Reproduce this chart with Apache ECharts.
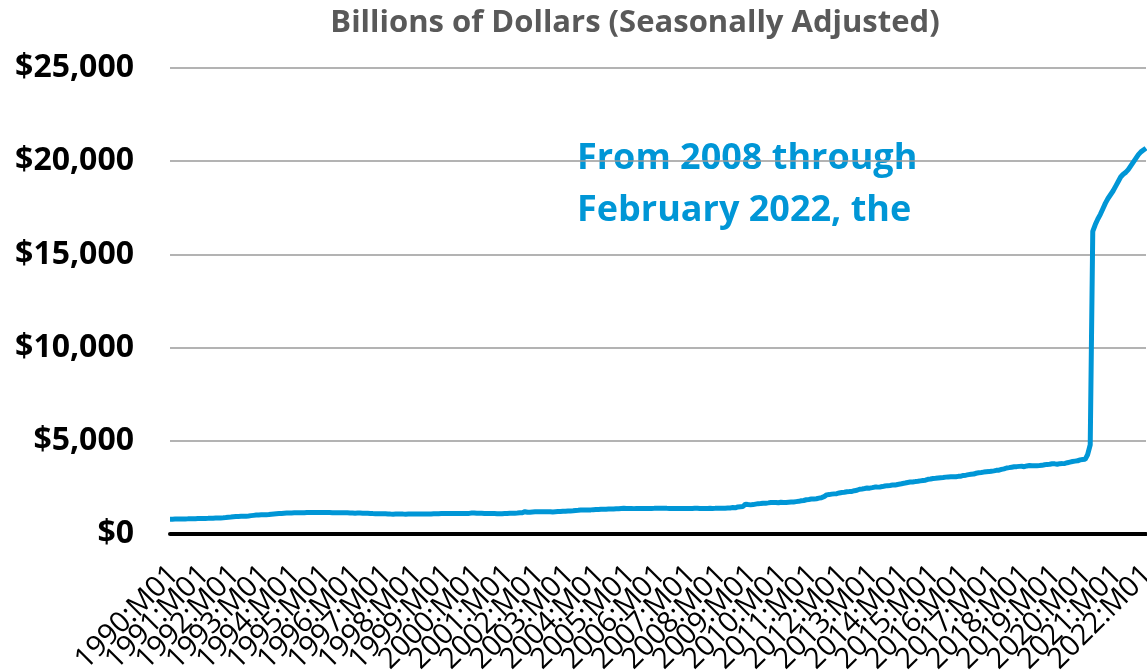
<!DOCTYPE html>
<html>
<head>
<meta charset="utf-8">
<title>M1 money stock</title>
<script src="https://cdn.jsdelivr.net/npm/echarts@6/dist/echarts.min.js"></script>
<style>
    html, body { margin: 0; padding: 0; background: #fff; }
    #m1_line { width: 1147px; height: 670px; }
</style>
</head>
<body>
<div id="m1_line"></div>
<script>

// Data
// ------------------------------

var firstYear = 1990,
    lastYear = 2022,
    lastMonth = 2;

// Monthly values, billions of dollars
var values1990 = [794, 796, 799, 802, 801, 806, 808, 812, 817, 819, 820, 825],
    values1991 = [828, 834, 838, 842, 847, 851, 856, 861, 864, 871, 880, 897],
    values1992 = [910, 925, 936, 944, 951, 952, 958, 970, 985, 1000, 1015, 1024],
    values1993 = [1030, 1034, 1038, 1047, 1065, 1075, 1085, 1094, 1103, 1114, 1124, 1129],
    values1994 = [1132, 1136, 1140, 1142, 1145, 1145, 1151, 1151, 1150, 1150, 1150, 1150],
    values1995 = [1151, 1150, 1149, 1150, 1146, 1145, 1146, 1145, 1141, 1137, 1134, 1127],
    values1996 = [1123, 1117, 1122, 1122, 1115, 1115, 1112, 1102, 1094, 1088, 1085, 1081],
    values1997 = [1081, 1080, 1073, 1068, 1065, 1069, 1072, 1076, 1069, 1066, 1071, 1073],
    values1998 = [1074, 1078, 1078, 1077, 1077, 1076, 1074, 1074, 1081, 1088, 1092, 1096],
    values1999 = [1098, 1100, 1099, 1102, 1106, 1104, 1101, 1099, 1098, 1099, 1106, 1123],
    values2000 = [1122, 1110, 1109, 1111, 1106, 1099, 1101, 1096, 1096, 1090, 1088, 1087],
    values2001 = [1096, 1097, 1107, 1113, 1116, 1125, 1135, 1143, 1201, 1167, 1170, 1182],
    values2002 = [1190, 1193, 1193, 1188, 1190, 1193, 1199, 1186, 1194, 1202, 1205, 1220],
    values2003 = [1226, 1237, 1237, 1244, 1258, 1269, 1283, 1290, 1291, 1291, 1294, 1306],
    values2004 = [1312, 1318, 1331, 1331, 1330, 1339, 1339, 1344, 1357, 1354, 1366, 1377],
    values2005 = [1363, 1369, 1371, 1361, 1371, 1373, 1366, 1371, 1373, 1371, 1372, 1375],
    values2006 = [1379, 1380, 1379, 1385, 1376, 1373, 1364, 1364, 1362, 1363, 1369, 1367],
    values2007 = [1368, 1366, 1374, 1382, 1378, 1368, 1373, 1370, 1374, 1378, 1372, 1375],
    values2008 = [1379, 1377, 1384, 1385, 1394, 1400, 1419, 1406, 1452, 1465, 1476, 1603],
    values2009 = [1580, 1563, 1577, 1604, 1628, 1631, 1651, 1653, 1669, 1687, 1690, 1693],
    values2010 = [1674, 1706, 1696, 1689, 1703, 1713, 1717, 1737, 1752, 1781, 1797, 1837],
    values2011 = [1854, 1875, 1880, 1892, 1925, 1949, 2001, 2099, 2114, 2139, 2153, 2165],
    values2012 = [2203, 2230, 2237, 2264, 2274, 2285, 2324, 2346, 2399, 2419, 2441, 2466],
    values2013 = [2459, 2486, 2517, 2515, 2525, 2544, 2571, 2594, 2606, 2626, 2624, 2658],
    values2014 = [2679, 2712, 2733, 2763, 2787, 2795, 2811, 2828, 2850, 2870, 2885, 2932],
    values2015 = [2951, 2980, 2992, 3007, 3022, 3029, 3051, 3064, 3070, 3075, 3068, 3093],
    values2016 = [3101, 3143, 3157, 3186, 3209, 3217, 3259, 3283, 3299, 3321, 3338, 3348],
    values2017 = [3371, 3387, 3415, 3425, 3465, 3495, 3541, 3560, 3584, 3608, 3614, 3628],
    values2018 = [3636, 3612, 3653, 3671, 3661, 3666, 3664, 3670, 3684, 3714, 3734, 3741],
    values2019 = [3771, 3763, 3742, 3775, 3776, 3788, 3825, 3858, 3889, 3910, 3925, 3977],
    values2020 = [3998, 4005, 4266, 4788, 16233, 16600, 16900, 17150, 17450, 17750, 18000, 18200],
    values2021 = [18400, 18650, 18900, 19150, 19300, 19400, 19550, 19750, 19950, 20150, 20350, 20500],
    values2022 = [20600, 20700];

// Vertical axis ticks
var yMin = 0,
    yMax = 25000,
    yStep = 5000;


// Setup module
// ------------------------------

var EchartsM1Line = function() {

    // M1 line chart
    var _m1LineExample = function() {
        if (typeof echarts == 'undefined') {
            console.warn('Warning - echarts.min.js is not loaded.');
            return;
        }

        // Define element
        var m1_line_element = document.getElementById('m1_line');
        if (!m1_line_element) {
            return;
        }

        // Month labels like 1990:M01
        var categories = [];
        for (var y = firstYear; y <= lastYear; y++) {
            var months = (y === lastYear) ? lastMonth : 12;
            for (var m = 1; m <= months; m++) {
                categories.push(y + ':M' + (m < 10 ? '0' + m : m));
            }
        }

        var values = [].concat(
            values1990, values1991, values1992, values1993, values1994, values1995,
            values1996, values1997, values1998, values1999, values2000, values2001,
            values2002, values2003, values2004, values2005, values2006, values2007,
            values2008, values2009, values2010, values2011, values2012, values2013,
            values2014, values2015, values2016, values2017, values2018, values2019,
            values2020, values2021, values2022
        );

        // Initialize chart
        var m1_line = echarts.init(m1_line_element);

        // Styles
        var fontFamily = '"Open Sans", "Noto Sans", sans-serif',
            lineColor = '#0096d6',
            titleColor = '#595959',
            gridColor = '#9a9a9a';

        m1_line.setOption({
            animation: false,

            textStyle: {
                fontFamily: fontFamily
            },

            // Title
            title: {
                text: 'Billions of Dollars (Seasonally Adjusted)',
                left: 630,
                top: 3,
                textAlign: 'center',
                textStyle: {
                    fontFamily: fontFamily,
                    fontSize: 31,
                    fontWeight: 'bold',
                    color: titleColor
                }
            },

            // Grid (fixed box, labels may run to the edge)
            grid: {
                left: 170,
                right: 1,
                top: 68,
                bottom: 136,
                containLabel: false,
                outerBoundsMode: 'none'
            },

            // Horizontal axis
            xAxis: {
                type: 'category',
                data: categories,
                boundaryGap: false,
                axisTick: {
                    show: false
                },
                axisLine: {
                    lineStyle: {
                        color: '#000',
                        width: 4
                    }
                },
                axisLabel: {
                    // every month gets a label slot, only January is written
                    interval: 0,
                    hideOverlap: false,
                    formatter: function(value, index) {
                        return index % 12 === 0 ? value : '';
                    },
                    rotate: 45,
                    margin: 32,
                    verticalAlign: 'top',
                    lineHeight: 12,
                    fontSize: 29,
                    color: '#000',
                    fontFamily: fontFamily
                },
                splitLine: {
                    show: false
                }
            },

            // Vertical axis
            yAxis: {
                type: 'value',
                min: yMin,
                max: yMax,
                interval: yStep,
                axisLine: {
                    show: false
                },
                axisTick: {
                    show: false
                },
                axisLabel: {
                    margin: 36,
                    fontSize: 32,
                    fontWeight: 'bold',
                    color: '#000',
                    fontFamily: fontFamily,
                    formatter: function(v) {
                        return '$' + v.toLocaleString('en-US');
                    }
                },
                splitLine: {
                    lineStyle: {
                        color: gridColor,
                        width: 1.5
                    }
                }
            },

            // Annotation
            graphic: [
                {
                    type: 'text',
                    left: 577,
                    top: 133,
                    style: {
                        text: 'From 2008 through\nFebruary 2022, the',
                        font: 'bold 36px ' + fontFamily,
                        lineHeight: 52,
                        fill: lineColor
                    }
                }
            ],

            // Series
            series: [
                {
                    name: 'M1',
                    type: 'line',
                    data: values,
                    showSymbol: false,
                    smooth: false,
                    lineStyle: {
                        color: lineColor,
                        width: 5
                    },
                    itemStyle: {
                        color: lineColor
                    }
                }
            ]
        });
    };

    return {
        init: function() {
            _m1LineExample();
        }
    }
}();


// Initialize module
// ------------------------------

document.addEventListener('DOMContentLoaded', function() {
    EchartsM1Line.init();
});
</script>
</body>
</html>
